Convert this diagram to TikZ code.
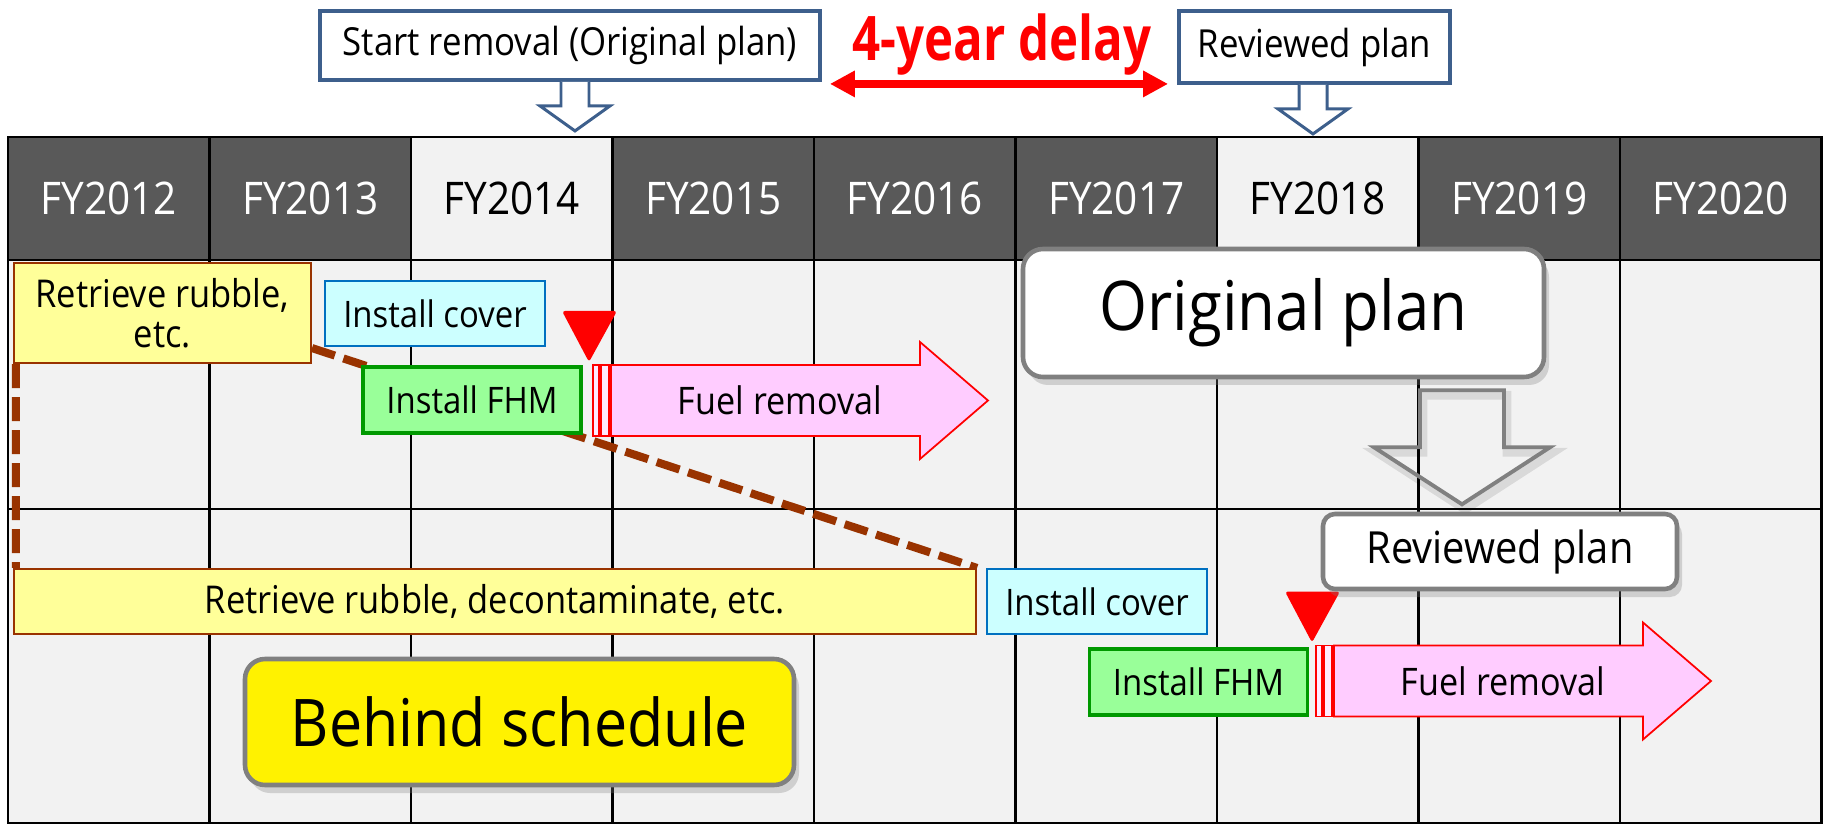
\documentclass[tikz,border=0pt]{standalone}
\usepackage{fontspec}
\setmainfont{Open Sans}[FakeStretch=0.9]
\newfontfamily\delayfont{Open Sans}[FakeStretch=0.8]
\usetikzlibrary{arrows.meta,shadows,backgrounds,calc}
\pgfdeclarelayer{back}
\pgfsetlayers{back,background,main}

\definecolor{hdrdark}{HTML}{595959}
\definecolor{cellgray}{HTML}{F2F2F2}
\definecolor{planblue}{HTML}{3D5F8C}
\definecolor{rubbleyel}{HTML}{FFFF99}
\definecolor{rubblebrn}{HTML}{993300}
\definecolor{covercyan}{HTML}{CCFFFF}
\definecolor{coverblue}{HTML}{0070C0}
\definecolor{fhmgreen}{HTML}{99FF99}
\definecolor{fhmdark}{HTML}{009900}
\definecolor{fuelpink}{HTML}{FFCCFF}
\definecolor{notegray}{HTML}{808080}

\begin{document}
\begin{tikzpicture}[x=0.1mm,y=-0.1mm,
		dark cell/.style={fill=hdrdark,text=white,minimum width=20.15mm,minimum height=12.3mm,
			font=\fontsize{12.8}{14}\selectfont},
		light cell/.style={dark cell,fill=cellgray,text=black},
		grid/.style={line width=0.7pt,black},
		plan box/.style={draw=planblue,line width=1.1pt,fill=white,font=\fontsize{11}{13}\selectfont},
		hollow/.style={draw=planblue,line width=0.85pt,fill=white,line join=miter},
		rubble/.style={draw=rubblebrn,line width=0.6pt,fill=rubbleyel,font=\fontsize{10.9}{11.4}\selectfont},
		cover/.style={draw=coverblue,line width=0.6pt,fill=covercyan,minimum width=22mm,minimum height=6.5mm,
			font=\fontsize{10.4}{12}\selectfont},
		fhm/.style={draw=fhmdark,line width=0.9pt,fill=fhmgreen,minimum width=21.8mm,minimum height=6.6mm,
			font=\fontsize{10.4}{12}\selectfont},
		fuel/.style={draw=red,line width=0.5pt,fill=fuelpink},
		strip/.style={draw=red,line width=0.3pt,fill=fuelpink!40},
		marker/.style={fill=red,rounded corners=0.3mm},
		link/.style={draw=rubblebrn,line width=2.3pt,dash pattern=on 2.4mm off 0.9mm},
		note/.style={draw=notegray,line width=1.3pt,rounded corners=2mm,
			drop shadow={opacity=0.3,shadow xshift=0.5mm,shadow yshift=-0.8mm}},
		note arrow/.style={draw=notegray,line width=1.1pt,line join=miter,
			preaction={draw=black,opacity=0.1,line width=2.5pt,transform canvas={xshift=0.3mm,yshift=-0.5mm}}}]

	\useasboundingbox (0,0) rectangle (1825,825);

	% year table
	\begin{pgfonlayer}{back}
		\fill[cellgray] (8,260) rectangle (1821.5,823);
		\foreach \yr/\sty [count=\i from 0] in {2012/dark cell,2013/dark cell,2014/light cell,
				2015/dark cell,2016/dark cell,2017/dark cell,2018/light cell,2019/dark cell,2020/dark cell}
			\node[\sty] (fy\yr) at ({108.75+201.5*\i},198.5) {FY\yr};
		\draw[grid] (8,137) rectangle (1821.5,823);
		\foreach \i in {1,...,8}
			\draw[grid] ({8+201.5*\i},137) -- ++(0,686);
		\draw[grid] (8,260) -- (1821.5,260) (8,509) -- (1821.5,509);
	\end{pgfonlayer}

	% start of removal, before and after review
	\node[plan box,minimum width=50mm,minimum height=6.9mm] (start) at (570,45.5) {Start removal (Original plan)};
	\node[plan box,minimum width=27.1mm,minimum height=7.2mm] (rev1) at (1314.5,47) {Reviewed plan};
	\node[text=red,anchor=base,font={\fontsize{17.5}{20}\delayfont\bfseries}] (delay) at (1002,61) {4-year delay};
	\draw[red,line width=2.3pt,{Triangle[length=2.5mm,width=2.5mm]}-{Triangle[length=2.5mm,width=2.5mm]}]
		($(start.south east)+(8,2)$) -- ($(rev1.west |- start.south east)+(-9,2)$);
	\foreach \b/\s in {start/5,rev1/-1.5}
		\draw[hollow] ($(\b.south)+(\s-14,0)$) -- ++(0,24) -- ++(-21,0) -- ++(35,25) -- ++(35,-25) -- ++(-21,0) -- ++(0,-24);

	% tasks
	\node[rubble,minimum width=29.7mm,minimum height=10mm,align=center] (ret1) at (162.5,313) {Retrieve rubble,\\etc.};
	\node[cover] (cov1) at (435,313.5) {Install cover};
	\node[fhm] (fhm1) at (472,400) {Install FHM};
	\node[rubble,minimum width=96.2mm,minimum height=6.5mm] (ret2) at (495,601.5) {Retrieve rubble, decontaminate, etc.};
	\node[cover] (cov2) at (1097,601.5) {Install cover};
	\node[fhm] (fhm2) at (1198.5,682) {Install FHM};

	\foreach \x/\y/\n in {593/400.5/1,1316/681/2} {
		\draw[strip] (\x,\y-35.5) rectangle ++(6,71);
		\draw[strip] (\x+8,\y-35.5) rectangle ++(8,71);
		\draw[fuel] (\x+18,\y-35.5) -- ++(309,0) -- ++(0,-23) -- ++(68,58.5) -- ++(-68,58.5) -- ++(0,-23) -- ++(-309,0) -- cycle;
		\node[font=\fontsize{10.8}{12}\selectfont] (fuel\n) at (\x+187,\y) {Fuel removal};
		\fill[marker] (\x-4,\y-38.5) -- (\x-31,\y-89.5) -- (\x+24,\y-89.5) -- cycle;
	}

	\begin{pgfonlayer}{background}
		\draw[link] ([xshift=0.3mm]ret1.south west) -- ([xshift=0.3mm]ret2.north west);
		\draw[link] ([yshift=1.6mm]ret1.south east) -- (ret2.north east);
	\end{pgfonlayer}

	% plan notes
	\node[note,fill=white,minimum width=52.1mm,minimum height=12.8mm,font=\fontsize{19.5}{23}\selectfont] (orig) at (1283.5,313) {Original plan};
	\draw[note arrow] ($(orig.south)+(136.5,11)$) -- ++(84,0) -- ++(0,57) -- ++(46,0) -- ++(-88,57) -- ++(-88,-57) -- ++(46,0) -- cycle;
	\node[note,fill=white,rounded corners=1.2mm,minimum width=35.4mm,minimum height=7.5mm,font=\fontsize{12.6}{14}\selectfont] (rev2) at (1500,551.5) {Reviewed plan};
	\node[note,fill=yellow,minimum width=54.9mm,minimum height=12.6mm,font=\fontsize{18.7}{22}\selectfont] (late) at (519.5,722) {Behind schedule};
\end{tikzpicture}
\end{document}
